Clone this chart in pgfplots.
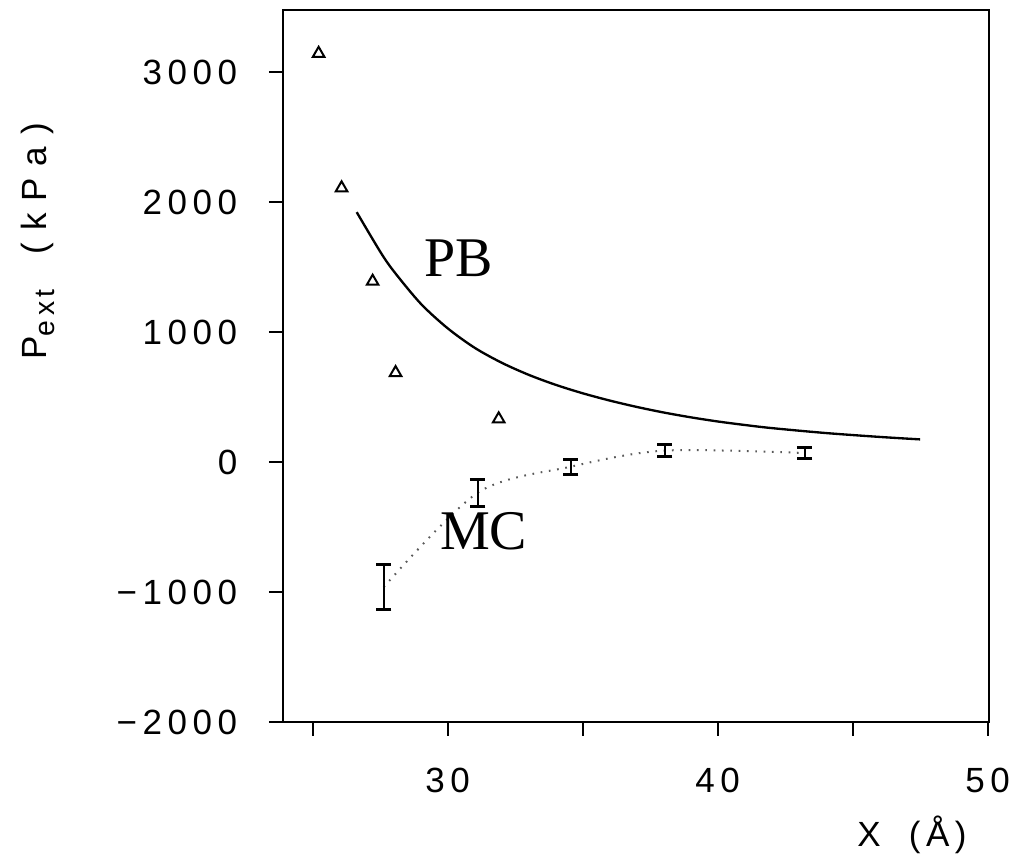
\documentclass[border=0pt]{standalone}
\usepackage{fontspec}
\setmainfont{Liberation Serif}
\newfontfamily\plotfont[LetterSpace=16]{Liberation Sans}
\newfontfamily\labelfont[LetterSpace=34]{Liberation Sans}
\usepackage{pgfplots}
\pgfplotsset{compat=1.18}
\begin{document}
\begin{tikzpicture}
\begin{axis}[
  at={(0,0)}, anchor=south west,
  scale only axis, width=211.8pt, height=213.6pt,
  xmin=23.9, xmax=50.05, ymin=-2000, ymax=3480,
  axis line style={line width=0.6pt},
  tick align=outside, tick pos=left,
  major tick length=4.2pt,
  tick style={line width=0.6pt, black},
  xtick={25,30,35,40,45,50}, xticklabels={,30,,40,,50},
  ytick={-2000,-1000,0,1000,2000,3000},
  yticklabels={−2000,−1000,0,1000,2000,3000},
  ticklabel style={font=\fontsize{10.5}{12}\plotfont},
  xticklabel style={yshift=-6pt},
  yticklabel style={xshift=-6pt},
  xlabel={X\hspace{0.8em}(Å)},
  ylabel={P\raisebox{-0.45ex}{\fontsize{8.5}{10}\plotfont ext}\hspace{1.0em}{\labelfont(kPa)}},
  label style={font=\fontsize{10.5}{12}\plotfont},
  xlabel style={at={(rel axis cs:0.891,-0.159)}, anchor=center},
  ylabel style={at={(rel axis cs:-0.347,0.675)}, anchor=center},
  clip=false,
]
% PB curve
\addplot[black, line width=0.7pt, smooth] coordinates {
(26.63,1924)(27.5,1620)(28,1470)(29,1220)(30,1030)(31,880)(32,765)(33,672)
(34,595)(35,530)(36,474)(37,425)(38,382)(39,345)(40,313)(41,286)(42,262)
(44,224)(46,194)(47.5,175)};
% triangles
\addplot[only marks, mark=triangle, mark size=2pt, mark options={black, line width=0.6pt}] coordinates {
(25.22,3145)(26.07,2110)(27.22,1391)(28.07,688)(31.89,332)};
% MC dotted line
\addplot[black!65, line width=0.6pt, dash pattern=on 0.5pt off 2pt, smooth] coordinates {
(27.63,-962)(31.11,-236)(34.56,-35)(38.04,89)(43.22,70)};
% MC error bars
\addplot[draw=none, mark=none, error bars/.cd, y dir=both, y explicit,
  error bar style={draw=black, solid, line width=0.6pt},
  error mark options={rotate=90, draw=black, line width=0.9pt, mark size=2.3pt}] coordinates {
(27.63,-962) +- (0,175)
(31.11,-236) +- (0,104)
(34.56,-35) +- (0,58)
(38.04,89) +- (0,43)
(43.22,70) +- (0,39)};
\node[font=\fontsize{16.8}{18}\selectfont] at (axis cs:30.41,1569) {PB};
\node[font=\fontsize{16.8}{18}\selectfont] at (axis cs:31.33,-533) {MC};
\end{axis}
\path (-84.9pt,-42.9pt) rectangle (222.9pt,216.6pt);
\end{tikzpicture}
\end{document}
